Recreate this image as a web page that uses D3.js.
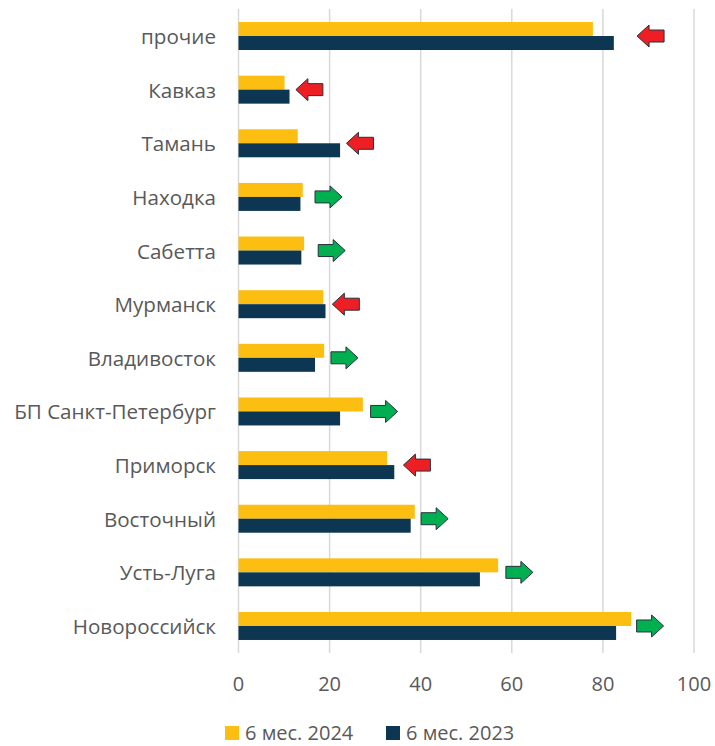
<!DOCTYPE html>
<html>
<head>
<meta charset="utf-8">
<script src="https://cdn.jsdelivr.net/npm/d3@7"></script>
<style>
  body { margin: 0; background: #fff; }
  svg text { font-family: "Open Sans", sans-serif; fill: #595959; }
</style>
</head>
<body>
<div id="chart"></div>
<script>
// ports, top to bottom
const ports = ['прочие', 'Кавказ', 'Тамань', 'Находка', 'Сабетта', 'Мурманск',
  'Владивосток', 'БП Санкт-Петербург', 'Приморск', 'Восточный', 'Усть-Луга', 'Новороссийск'];
const vals2024 = [77.8, 10.1, 13.0, 14.1, 14.4, 18.6, 18.8, 27.3, 32.6, 38.7, 57.0, 86.2];
const vals2023 = [82.4, 11.2, 22.3, 13.6, 13.8, 19.1, 16.8, 22.3, 34.2, 37.8, 53.0, 82.9];
// where each trend arrow starts (value units) and its direction
const arrowAt = [87.5, 12.6, 23.7, 16.8, 17.5, 20.6, 20.3, 29.0, 36.2, 40.1, 58.7, 87.4];
const arrowDir = ['down', 'down', 'down', 'up', 'up', 'down', 'up', 'up', 'down', 'up', 'up', 'up'];
const xTicks = [0, 20, 40, 60, 80, 100];
const seriesNames = ['6 мес. 2024', '6 мес. 2023'];
const colors = ['#fdbe12', '#0c3652'];

let w = 715, h = 746;
let svg = d3.select('#chart').append('svg').attr('width', w).attr('height', h);

let x = d3.scaleLinear().domain([0, 100]).range([238.5, 694]);
let y = d3.scaleBand().domain(ports).range([9.2, 652.8]).paddingInner(0.478).paddingOuter(0.239);

// gridlines
svg.append('g').selectAll('line').data(xTicks).enter().append('line')
  .attr('x1', d => x(d)).attr('x2', d => x(d))
  .attr('y1', 9).attr('y2', 653)
  .attr('stroke', '#d9d9d9').attr('stroke-width', 1.5);

let bh = y.bandwidth() / 2;
[vals2024, vals2023].forEach((vals, s) => {
  svg.append('g').selectAll('rect').data(vals).enter().append('rect')
    .attr('x', x(0))
    .attr('y', (d, i) => y(ports[i]) + s * bh)
    .attr('width', d => x(d) - x(0))
    .attr('height', bh)
    .attr('fill', colors[s]);
});

// trend arrows
function arrowPath(dir) {
  // 27 x 22 block arrow, origin at left-middle
  if (dir === 'up') return 'M0,-6 L15,-6 L15,-11 L27,0 L15,11 L15,6 L0,6 Z';
  return 'M27,-6 L12,-6 L12,-11 L0,0 L12,11 L12,6 L27,6 Z';
}
svg.append('g').selectAll('path').data(arrowAt).enter().append('path')
  .attr('transform', (d, i) => 'translate(' + x(d) + ',' + (y(ports[i]) + bh) + ')')
  .attr('d', (d, i) => arrowPath(arrowDir[i]))
  .attr('fill', (d, i) => arrowDir[i] === 'up' ? '#00b050' : '#ee1f24')
  .attr('stroke', '#26323a').attr('stroke-width', 1);

// category labels
svg.append('g').selectAll('text').data(ports).enter().append('text')
  .attr('x', 216).attr('y', d => y(d) + bh)
  .attr('text-anchor', 'end').attr('dominant-baseline', 'central')
  .style('font-size', '20.6px')
  .text(d => d);

// x axis labels
svg.append('g').selectAll('text').data(xTicks).enter().append('text')
  .attr('x', d => x(d)).attr('y', 691)
  .attr('text-anchor', 'middle')
  .style('font-size', '20px')
  .text(d => d);

// legend
let legendX = [225, 386];
seriesNames.forEach((name, s) => {
  svg.append('rect').attr('x', legendX[s]).attr('y', 726).attr('width', 14).attr('height', 14).attr('fill', colors[s]);
  svg.append('text').attr('x', legendX[s] + 20).attr('y', 739.5)
    .style('font-size', '20px').text(name);
});
</script>
</body>
</html>
